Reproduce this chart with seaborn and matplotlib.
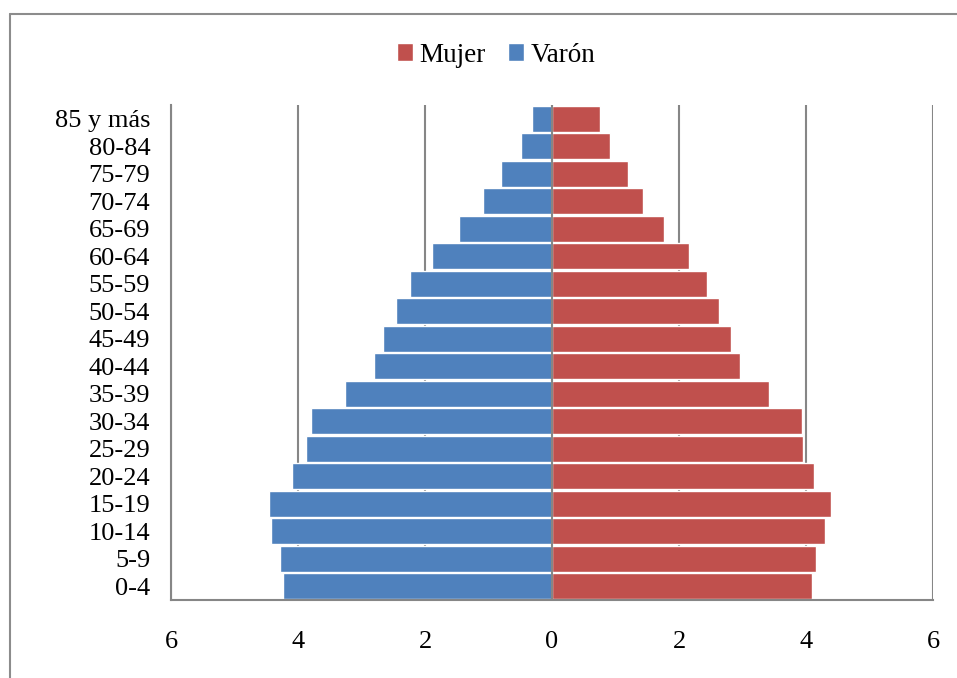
import pandas as pd
import matplotlib.pyplot as plt
import seaborn as sns
from matplotlib.lines import Line2D
from matplotlib.patches import Patch

# age groups, top to bottom
grupos = ["85 y más", "80-84", "75-79", "70-74", "65-69", "60-64", "55-59", "50-54",
          "45-49", "40-44", "35-39", "30-34", "25-29", "20-24", "15-19", "10-14", "5-9", "0-4"]
# percentages
mujer = [0.76, 0.91, 1.20, 1.44, 1.76, 2.15, 2.44, 2.63, 2.82, 2.96,
         3.42, 3.94, 3.95, 4.13, 4.39, 4.30, 4.15, 4.10]
varon = [0.31, 0.49, 0.80, 1.09, 1.46, 1.89, 2.23, 2.46, 2.66, 2.80,
         3.26, 3.80, 3.87, 4.10, 4.45, 4.43, 4.28, 4.23]
ticks = [-6, -4, -2, 0, 2, 4, 6]

azul = "#4F81BD"
rojo = "#C0504D"
gris = "#868686"

sns.set_style("white")
plt.rcParams['font.family'] = ['Liberation Serif', 'DejaVu Serif']
plt.rcParams['text.color'] = 'black'
plt.rcParams['xtick.color'] = 'black'
plt.rcParams['ytick.color'] = 'black'

df = pd.DataFrame({"grupo": grupos, "Mujer": mujer, "Varón": [-v for v in varon]})

fig = plt.figure(figsize=(9.57, 6.78), dpi=100)
ax = fig.add_axes([171/957, 1 - 600/678, (933-171)/957, (600-105)/678])

# gridlines behind bars
for t in ticks:
    ax.axvline(t, color=gris, lw=1.5, zorder=0)

sns.barplot(x="Varón", y="grupo", data=df, color=azul, orient="h", width=0.94,
            edgecolor="white", linewidth=1, saturation=1, ax=ax, zorder=2)
sns.barplot(x="Mujer", y="grupo", data=df, color=rojo, orient="h", width=0.94,
            edgecolor="white", linewidth=1, saturation=1, ax=ax, zorder=2)
ax.axvline(0, color=gris, lw=1.5, zorder=3)

ax.set_xlim(-6, 6)
ax.set_ylim(len(grupos) - 0.5, -0.5)
ax.set_xticks(ticks)
ax.set_xticklabels([str(abs(t)) for t in ticks], fontsize=19)
ax.tick_params(axis="x", length=0, pad=22)
ax.tick_params(axis="y", length=0, pad=15, labelsize=19)
ax.set_xlabel("")
ax.set_ylabel("")

for s in ["top", "right"]:
    ax.spines[s].set_visible(False)
for s in ["left", "bottom"]:
    ax.spines[s].set_color(gris)
    ax.spines[s].set_linewidth(1.5)

handles = [Patch(facecolor=rojo, label="Mujer"), Patch(facecolor=azul, label="Varón")]
fig.legend(handles=handles, loc="center", bbox_to_anchor=(496/957, 1 - 55/678), ncol=2,
           frameon=False, fontsize=19.5, handlelength=0.6, handleheight=0.6,
           handletextpad=0.25, columnspacing=0.8)

# outer chart frame
fig.add_artist(Line2D([10/957, 10/957], [0, 1 - 14/678], color="#8c8c8c", lw=1.5))
fig.add_artist(Line2D([10/957, 1], [1 - 14/678, 1 - 14/678], color="#8c8c8c", lw=1.5))

fig.savefig("out.png", dpi=100)
